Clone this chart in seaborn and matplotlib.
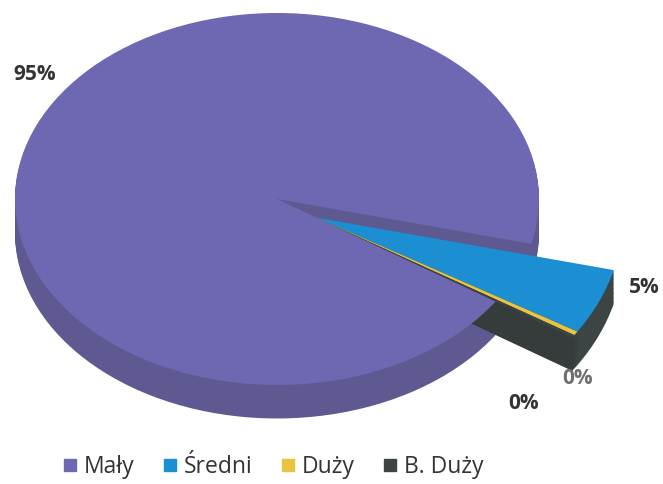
import matplotlib
matplotlib.use("Agg")
import matplotlib.pyplot as plt
from matplotlib.lines import Line2D
import seaborn as sns

categories = ["Mały", "Średni", "Duży", "B. Duży"]
values = [94.6, 4.9, 0.3, 0.2]
pct_labels = [f"{round(v)}%" for v in values]

top_colors = ["#6E67B1", "#1B8FD2", "#E9C43F", "#3E4444"]
side_colors = ["#5E5990", "#3D4444", "#3A4040", "#363B3B"]

sns.set_theme(style="white")
plt.rcParams["font.family"] = ["Open Sans", "DejaVu Sans"]

fig = plt.figure(figsize=(6.63, 4.84), dpi=100)
ax = fig.add_axes([0, 0, 1, 1])

start = -33.4
depth = 0.18
n_layers = 26
big_cols_top = [top_colors[0], "none", "none", "none"]
big_cols_side = [side_colors[0], "none", "none", "none"]
small_cols_top = ["none"] + top_colors[1:]
small_cols_side = ["none"] + side_colors[1:]
small_center = (0.15, -0.1)
small_radius = 1.17

# main slice body
for k in range(n_layers):
    off = -depth * (1 - k / n_layers)
    ax.pie(values, colors=big_cols_side, startangle=start, counterclock=False,
           center=(0, off), wedgeprops=dict(linewidth=0))
# pulled-out slices body
for k in range(n_layers):
    off = -depth * (1 - k / n_layers)
    ax.pie(values, colors=small_cols_side, startangle=start, counterclock=False,
           radius=small_radius,
           center=(small_center[0], small_center[1] + off),
           wedgeprops=dict(linewidth=0))
# tops
ax.pie(values, colors=big_cols_top, startangle=start, counterclock=False,
       center=(0, 0), wedgeprops=dict(linewidth=0))
ax.pie(values, colors=small_cols_top, startangle=start, counterclock=False,
       radius=small_radius, center=small_center,
       wedgeprops=dict(linewidth=0))

ax.set_aspect("auto")
cx, cy, rx, ry = 277, 199, 262, 186
ax.set_xlim(-cx / rx, (663 - cx) / rx)
ax.set_ylim(-(484 - cy) / ry, cy / ry)
ax.axis("off")

label_pos = [(0.053, 0.847), (0.972, 0.405), (0.789, 0.167), (0.871, 0.217)]
label_col = ["#333333", "#333333", "#333333", "#707070"]
for lab, (px, py), c in zip(pct_labels, label_pos, label_col):
    fig.text(px, py, lab, ha="center", va="center", fontsize=15,
             fontweight="bold", color=c)

handles = [Line2D([], [], marker="s", linestyle="none", markersize=8,
                  markerfacecolor=c, markeredgecolor=c) for c in top_colors]
fig.legend(handles, categories, loc="center", bbox_to_anchor=(0.41, 0.035),
           ncol=4, frameon=False, fontsize=16.5, handlelength=0.8,
           handletextpad=0.2, columnspacing=1.15, labelcolor="#333333")

fig.savefig("out.png", dpi=100)
